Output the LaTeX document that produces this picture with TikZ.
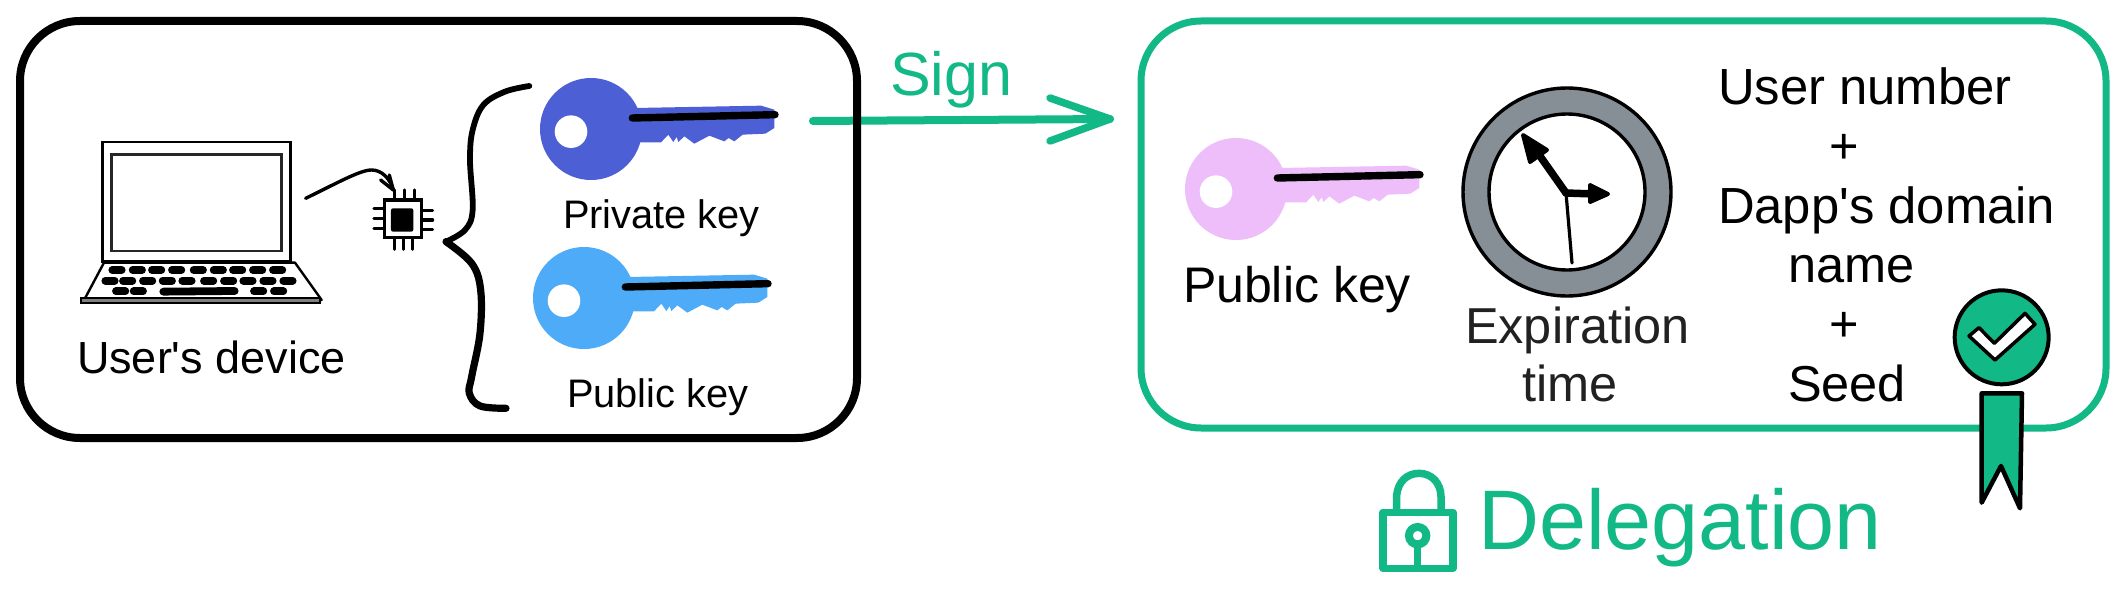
\documentclass[tikz,border=0pt]{standalone}
\usepackage{fontspec}
\setmainfont{Liberation Sans}
\definecolor{grn}{HTML}{12B886}
\definecolor{keyblue}{HTML}{4C5FD5}
\definecolor{keysky}{HTML}{4DABF7}
\definecolor{keypink}{HTML}{EEBEFA}
\definecolor{rim}{HTML}{868E96}
\definecolor{dark}{HTML}{212121}
\tikzset{
  lbl/.style={inner sep=0pt,outer sep=0pt,anchor=base west,text=#1},
  lbl/.default=black,
  panel/.style={draw=#1,fill=none,rounded corners=60pt,inner sep=0pt,outer sep=0pt},
  greenline/.style={draw=grn,line width=7.5pt,line cap=round,line join=round},
  inkline/.style={draw=black,line cap=round,line join=round},
  keypill/.style={draw=black,line width=7.8pt,line cap=round},
}
\newcommand{\fs}[1]{\fontsize{#1pt}{#1pt}\selectfont}
\newcommand{\keyshape}[3]{%
  \begin{scope}[shift={(#1,#2)},x=0.3333pt,y=-0.3333pt]
    \fill[#3] (100,-63) -- (130,-63) -- (510,-70) -- (550,-58) -- (550,-3) -- (523,14) -- (455,17) -- (430,37) -- (413,27) -- (400,37) -- (355,20) -- (310,44) -- (280,22) -- (262,39) -- (257,24) -- (247,39) -- (232,17) -- (210,40) -- (100,40) -- cycle;
    \fill[#3] (0,0) circle[radius=51pt];
    \fill[white] (-60,8) circle[radius=16.3pt];
    \draw[inkline,line width=7.4pt] (124,-33) -- (552,-43);
  \end{scope}}
\begin{document}
\begin{tikzpicture}[x=1pt,y=-1pt]
\useasboundingbox (0,0) rectangle (2125,591);
\fill[white] (0,0) rectangle (2125,591);

% sign arrow, under the device panel's outline
\coordinate (signstart) at (813,121);
\coordinate (signend) at (1110,119);
\coordinate (armup) at (1050,98);
\coordinate (armdown) at (1050,141);
\draw[greenline,line width=8pt] (signstart) -- (signend);
\draw[greenline] (armup) -- (signend) -- (armdown);
\node[lbl=grn] (signlabel) at (890,96) {\fs{61}Sign};

% panels
\node[panel=black,line width=8pt,minimum width=837pt,minimum height=417pt] (device) at (438.5,229.5) {};
\node[panel=grn,line width=7pt,minimum width=965pt,minimum height=407pt] (delegationbox) at (1623.5,224.5) {};

% laptop and chip
\begin{scope}[shift={(60,120)},x=0.3333pt,y=-0.3333pt]
  \draw[line width=2.6pt] (127,66) rectangle (692,425);
  \draw[line width=2.4pt,draw=black!85] (155,103) rectangle (664,393);
  \draw[line width=2.4pt,line join=round] (132,428) -- (705,428) -- (785,540) -- (75,535) -- cycle;
  \draw[line width=2pt,fill=black!50] (62,535) rectangle (780,550);
  \foreach \k in {171,232,290,350,415,475,533,593,653}
    \draw[keypill] (\k-14,450) -- (\k+14,450);
  \foreach \k in {150,203,263,322,381,446,506,564,624,684}
    \draw[keypill] (\k-14,482) -- (\k+14,482);
  \foreach \k in {182,235,596,656}
    \draw[keypill] (\k-14,514) -- (\k+14,514);
  \draw[keypill] (310,515) -- (524,513);
  \draw[line width=3.4pt] (973,240) rectangle (1085,353);
  \fill[black,rounded corners=2pt] (993,265) rectangle (1060,335);
  \foreach \k in {1003,1033,1063} \draw[inkline,line width=3.2pt] (\k,210) -- (\k,240);
  \foreach \k in {1003,1030,1057} \draw[inkline,line width=3.2pt] (\k,353) -- (\k,388);
  \foreach \k in {265,295,325} \draw[inkline,line width=3.2pt] (942,\k) -- (973,\k);
  \foreach \k in {272,300,328} \draw[inkline,line width=3.2pt] (1085,\k) -- (1118,\k);
  \coordinate (cpustart) at (737,235);
  \coordinate (cpuend) at (1000,210);
  \draw[inkline,line width=3.4pt] (cpustart) .. controls (830,190) and (900,150) .. (935,150) .. controls (965,150) and (990,175) .. (cpuend);
  \draw[inkline,line width=3.4pt] (962,180) -- (cpuend) -- (988,165);
\end{scope}

% brace
\begin{scope}[shift={(430,50)},x=0.3333pt,y=-0.3333pt]
  \draw[inkline,line width=5.8pt] plot[smooth,tension=0.6] coordinates {(298,108) (225,125) (160,165) (128,240) (120,330) (128,480) (105,540) (48,575)};
  \draw[inkline,line width=7.2pt] plot[smooth,tension=0.6] coordinates {(48,575) (125,640) (152,720) (150,850) (125,980) (118,1030) (150,1068) (228,1075)};
\end{scope}

% keys
\keyshape{591}{129}{keyblue}
\keyshape{584}{298}{keysky}
\keyshape{1236}{189}{keypink}

% left labels
\node[lbl] (devlabel) at (77,373) {\fs{45}User\textquotesingle s device};
\node[lbl] (privlabel) at (563,228) {\fs{39.8}Private key};
\node[lbl] (publabel) at (567,407) {\fs{39.8}Public key};

% right labels
\node[lbl] (pubkey2) at (1183,302) {\fs{50}Public key};
\node[lbl=dark] (exp1) at (1465,343) {\fs{50.5}Expiration};
\node[lbl=dark] (exp2) at (1522,401) {\fs{50.5}time};
\node[lbl] (t1) at (1718,105) {\fs{50.8}User number};
\node[lbl] (t2) at (1829,164) {\fs{50.5}+};
\node[lbl] (t3) at (1718,223) {\fs{50.8}Dapp\textquotesingle s domain};
\node[lbl] (t4) at (1788,282) {\fs{50.5}name};
\node[lbl] (t5) at (1829,341) {\fs{50.5}+};
\node[lbl] (t6) at (1788,401) {\fs{50.5}Seed};

% clock
\draw[fill=rim,line width=3.4pt] (1567,192) circle[radius=104pt];
\draw[fill=white,line width=3.4pt] (1567,192) circle[radius=78pt];
\coordinate (pivot) at (1566,193);
\draw[inkline,line width=7.5pt] (pivot) -- (1535,149);
\draw[inkline,line width=4pt,fill=black] (1523,135) -- (1547,150) -- (1530,162) -- cycle;
\draw[inkline,line width=7.5pt] (pivot) -- (1595,194);
\draw[inkline,line width=4pt,fill=black] (1608,194) -- (1590,185) -- (1590,202) -- cycle;
\draw[inkline,line width=3.2pt] (pivot) -- (1572,263);

% badge
\begin{scope}[shift={(1900,260)},x=0.3333pt,y=-0.3333pt]
  \draw[fill=grn,line width=4pt] (305,232) circle[radius=47pt];
  \draw[fill=white,line width=3.5pt,line join=round] (207,228) -- (237,203) -- (283,250) -- (375,160) -- (405,193) -- (285,300) -- cycle;
  \draw[fill=grn,line width=4.5pt,line join=round] (245,400) -- (366,400) -- (360,745) -- (303,618) -- (245,728) -- cycle;
\end{scope}

% lock
\begin{scope}[shift={(1360,450)},x=0.3333pt,y=-0.3333pt]
  \draw[greenline] (69,187) rectangle (279,355);
  \draw[greenline] (110,180) -- (110,135) .. controls (115,95) and (140,70) .. (178,70) .. controls (215,70) and (243,100) .. (243,140) -- (243,180);
  \draw[draw=grn,line width=8pt] (173,257) circle[radius=8.7pt];
  \draw[draw=grn,line width=7.5pt] (173,282) -- (173,345);
\end{scope}
\node[lbl=grn] (deleglabel) at (1478,549.5) {\fs{84.5}Delegation};
\end{tikzpicture}
\end{document}
